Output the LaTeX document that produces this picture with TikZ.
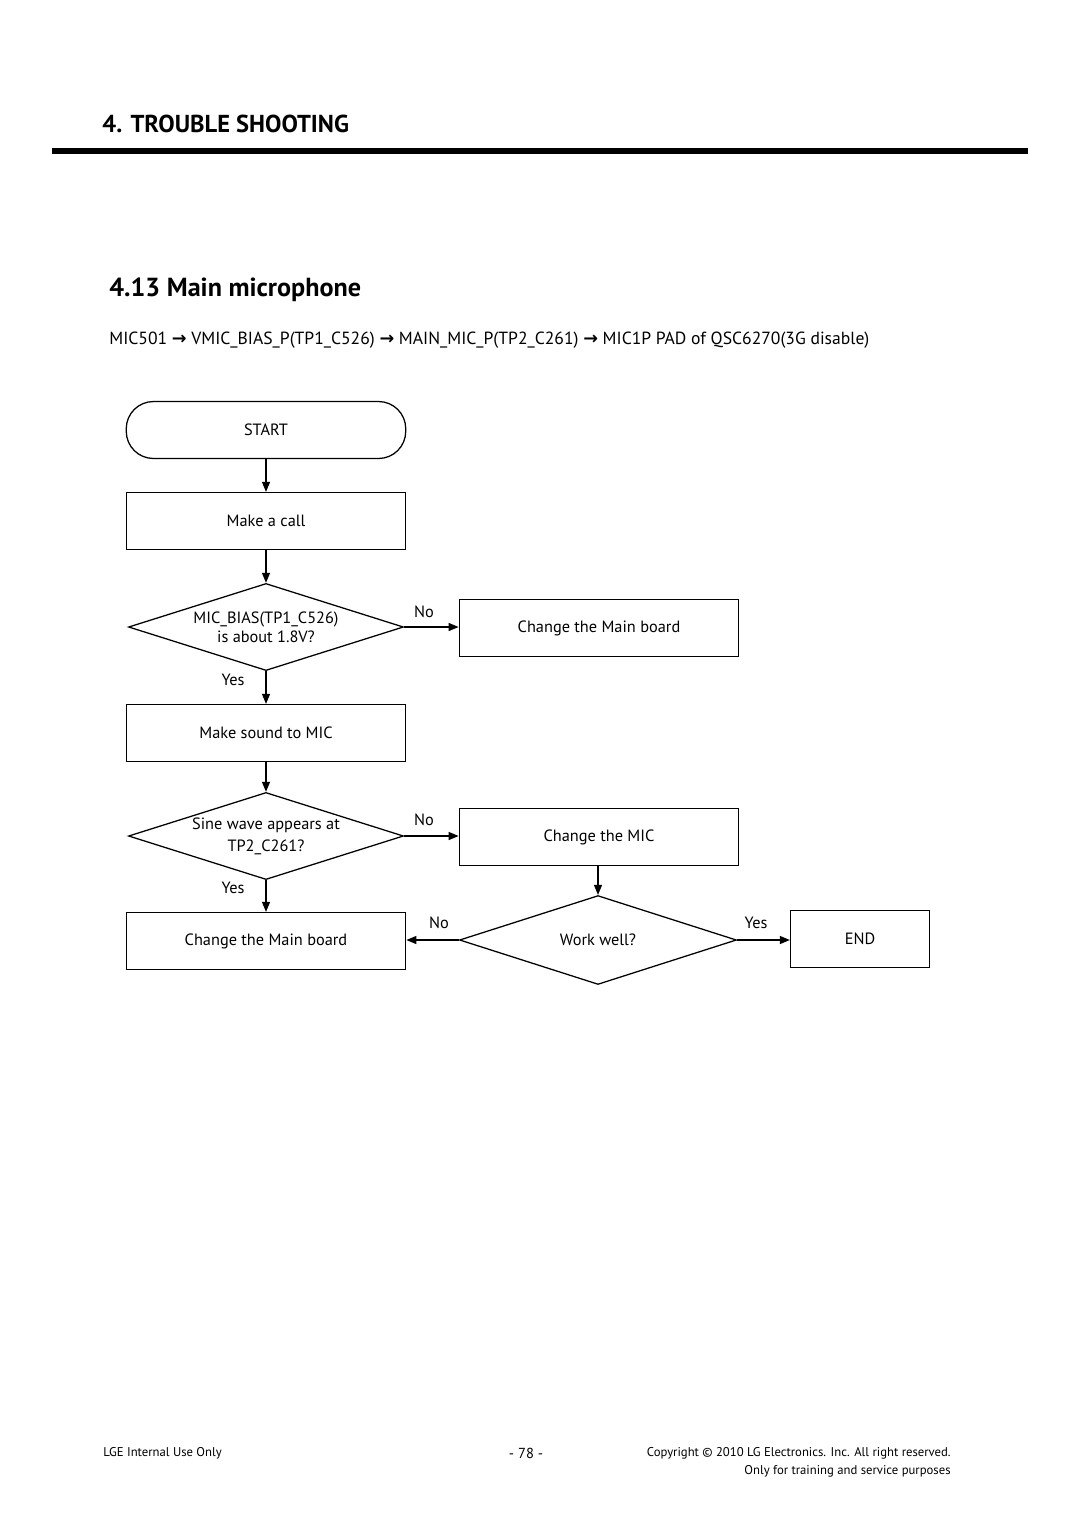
\documentclass[tikz,border=0pt]{standalone}
\usepackage{fontspec}
\setmainfont{PT Sans}
\newfontfamily\arrowfont{DejaVu Sans}
\usetikzlibrary{shapes.geometric}
\usetikzlibrary{arrows.meta}
\newcommand{\arr}{{\arrowfont\bfseries →}} % arrow in the signal path

\tikzset{
	% flowchart boxes
	box/.style={draw, line width=0.7pt, minimum width=154pt, minimum height=31.4pt, inner sep=0pt, font=\fontsize{9}{11}\selectfont},
	startbox/.style={box, rounded corners=15pt},
	endbox/.style={box, minimum width=76.6pt},
	decision/.style={draw, diamond, line width=0.7pt, shape aspect=3.2, minimum width=151.5pt, minimum height=48pt, inner sep=0pt, align=center, font=\fontsize{9}{10.5}\selectfont},
	flow/.style={line width=0.7pt, -{Triangle[length=5.5pt,width=4.4pt]}},
	answer/.style={inner sep=0pt, font=\fontsize{9}{11}\selectfont},
	heading/.style={inner sep=0pt, font=\fontsize{13.5}{15}\selectfont\bfseries},
	foot/.style={inner sep=0pt, font=\fontsize{7}{9}\selectfont}
}

\begin{document}
\begin{tikzpicture}[x=0.551pt,y=-0.551pt]
	% page 1080 x 1527 px
	\useasboundingbox (0,0) rectangle (1080,1527);
	% headings
	\node[heading, anchor=west] (chap) at (102,124) {4. TROUBLE SHOOTING};
	\draw[line width=2.8pt] (52,151) -- (1028,151);
	\node[heading, anchor=west, font=\fontsize{14.4}{16}\selectfont\bfseries] (sec) at (109,290) {4.13 Main microphone};
	\node[anchor=west, inner sep=0pt, font=\fontsize{9.7}{12}\selectfont] (path) at (109,340)
		{MIC501 \arr{} VMIC\_BIAS\_P(TP1\_C526) \arr{} MAIN\_MIC\_P(TP2\_C261) \arr{} MIC1P PAD of QSC6270(3G disable)};
	
	% flowchart
	\node[startbox] (start) at (266,430) {START};
	\node[box] (call) at (266,521) {Make a call};
	\node[decision] (bias) at (266,627) {MIC\_BIAS(TP1\_C526)\\is about 1.8V?};
	\node[box] (board1) at (599,628) {Change the Main board};
	\node[box] (sound) at (266,733) {Make sound to MIC};
	\node[decision] (sine) at (266,836) {Sine wave appears at\\[1.5pt]TP2\_C261?};
	\node[box] (mic) at (599,837) {Change the MIC};
	\node[box] (board2) at (266,941) {Change the Main board};
	\node[decision, minimum width=152.6pt, minimum height=49pt] (well) at (598,940) {Work well?};
	\node[endbox] (end) at (860,939) {END};
	
	% connectors
	\draw[flow] (start) -- (call);
	\draw[flow] (call) -- (bias);
	\draw[flow] (bias.east) -- (bias.east -| board1.west);
	\draw[flow] (bias) -- (sound);
	\draw[flow] (sound) -- (sine);
	\draw[flow] (sine.east) -- (sine.east -| mic.west);
	\draw[flow] (sine) -- (board2);
	\draw[flow] (well.north |- mic.south) -- (well.north);
	\draw[flow] (well.west) -- (well.west -| board2.east);
	\draw[flow] (well.east) -- (well.east -| end.west);
	
	% answers
	\node[answer] (no1) at (424,612) {No};
	\node[answer] (yes1) at (233,680) {Yes};
	\node[answer] (no2) at (424,820) {No};
	\node[answer] (yes2) at (233,888) {Yes};
	\node[answer] (no3) at (439,923) {No};
	\node[answer] (yes3) at (756,923) {Yes};
	
	% footer
	\node[foot, anchor=west] (internal) at (103,1453) {LGE Internal Use Only};
	\node[foot, font=\fontsize{8}{10}\selectfont] (page) at (526,1453) {- 78 -};
	\node[foot, anchor=east] (copy) at (951,1453) {Copyright © 2010 LG Electronics. Inc. All right reserved.};
	\node[foot, anchor=east] (purpose) at (951,1471) {Only for training and service purposes};
\end{tikzpicture}
\end{document}
